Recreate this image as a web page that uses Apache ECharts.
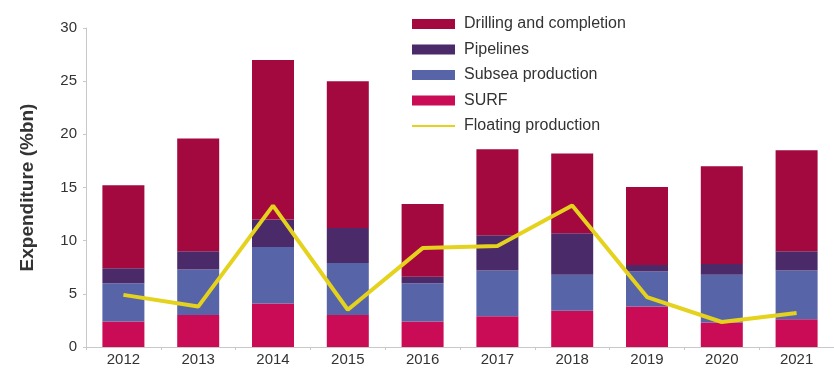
<!DOCTYPE html>
<html>
<head>
<meta charset="utf-8">
<script src="https://cdn.jsdelivr.net/npm/echarts@6/dist/echarts.min.js"></script>
<style>
  html, body { margin: 0; padding: 0; background: #fff; }
  #chart { width: 834px; height: 370px; }
</style>
</head>
<body>
<div id="chart"></div>
<script>
// datos
const years = ['2012', '2013', '2014', '2015', '2016', '2017', '2018', '2019', '2020', '2021'];
const surf = [2.4, 3.0, 4.1, 3.0, 2.4, 2.9, 3.4, 3.8, 2.3, 2.6];
const subsea = [3.6, 4.3, 5.3, 4.9, 3.6, 4.3, 3.4, 3.3, 4.5, 4.6];
const pipelines = [1.4, 1.7, 2.6, 3.3, 0.6, 3.3, 3.9, 0.6, 1.0, 1.8];
const drilling = [7.8, 10.6, 15.0, 13.8, 6.85, 8.1, 7.5, 7.35, 9.2, 9.5];
const floating = [4.9, 3.8, 13.3, 3.5, 9.3, 9.5, 13.3, 4.7, 2.35, 3.2];

const chart = echarts.init(document.getElementById('chart'));

const barCommon = {
    type: 'bar',
    stack: 'total',
    barWidth: 42
};

const option = {
    animation: false,
    textStyle: { fontFamily: 'Liberation Sans, Arial, sans-serif' },
    legend: {
        orient: 'vertical',
        left: 406,
        top: 11,
        itemWidth: 43,
        itemHeight: 10,
        itemGap: 9.5,
        textStyle: { fontSize: 16, color: '#333', padding: [0, 0, 0, 4] },
        data: [
            { name: 'Drilling and completion', icon: 'rect' },
            { name: 'Pipelines', icon: 'rect' },
            { name: 'Subsea production', icon: 'rect' },
            { name: 'SURF', icon: 'rect' },
            { name: 'Floating production', itemStyle: { opacity: 0 } }
        ]
    },
    grid: {
        left: 86,
        right: -15,
        top: 28,
        bottom: 23,
        containLabel: false
    },
    xAxis: {
        type: 'category',
        data: years,
        axisLine: { lineStyle: { color: '#c8c8c8' } },
        axisTick: { show: true, length: 3, lineStyle: { color: '#c8c8c8' } },
        axisLabel: { fontSize: 15, color: '#333', margin: 5 }
    },
    yAxis: {
        type: 'value',
        min: 0,
        max: 30,
        interval: 5,
        name: 'Expenditure (%bn)',
        nameLocation: 'middle',
        nameRotate: 90,
        nameGap: 49,
        nameTextStyle: { fontSize: 19, fontWeight: 'bold', color: '#333' },
        axisLine: { show: true, lineStyle: { color: '#c8c8c8' } },
        axisTick: { show: true, length: 3, lineStyle: { color: '#c8c8c8' } },
        axisLabel: { fontSize: 15, color: '#333', margin: 9 },
        splitLine: { show: false }
    },
    series: [
        Object.assign({ name: 'SURF', data: surf, itemStyle: { color: '#c90c55' } }, barCommon),
        Object.assign({ name: 'Subsea production', data: subsea, itemStyle: { color: '#5864a8' } }, barCommon),
        Object.assign({ name: 'Pipelines', data: pipelines, itemStyle: { color: '#4b2a6a' } }, barCommon),
        Object.assign({ name: 'Drilling and completion', data: drilling, itemStyle: { color: '#a3093f' } }, barCommon),
        {
            name: 'Floating production',
            type: 'line',
            data: floating,
            symbol: 'none',
            z: 5,
            lineStyle: { width: 4, color: '#e4d21c' },
            itemStyle: { color: '#e4d21c' }
        }
    ]
};

chart.setOption(option);
</script>
</body>
</html>
